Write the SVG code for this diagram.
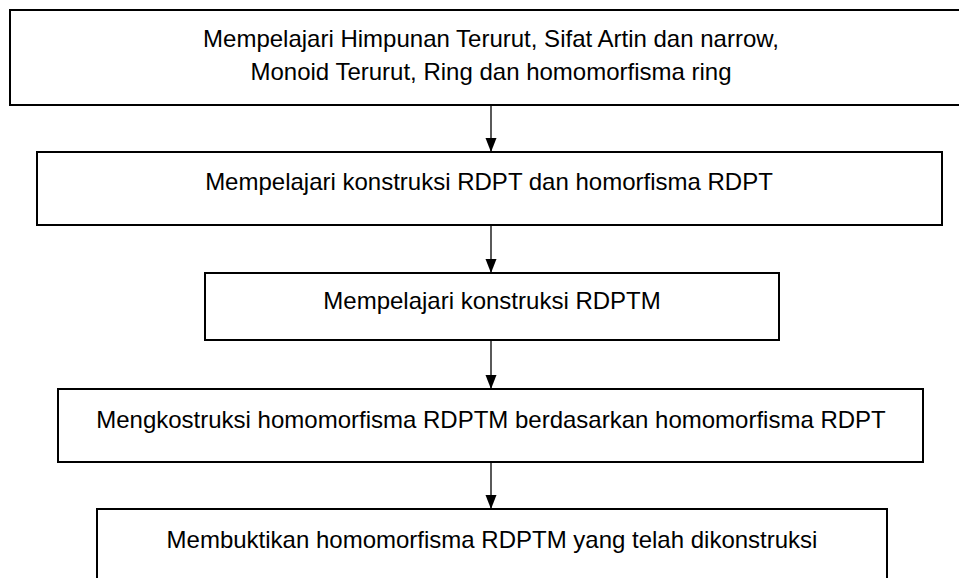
<svg xmlns="http://www.w3.org/2000/svg" width="959" height="578" viewBox="0 0 959 578">
<style>
.box{fill:#ffffff;stroke:#000000;stroke-width:2}
.lbl{font-family:"Liberation Sans",Arial,sans-serif;font-size:24px;fill:#000000;text-anchor:middle}
.conn{stroke:#000000;stroke-width:1.3;fill:none}
</style>
<defs>
<marker id="ah" markerUnits="userSpaceOnUse" markerWidth="15" markerHeight="12" refX="14" refY="6" orient="auto" viewBox="0 0 15 12">
<path d="M0,0.5 L14,6 L0,11.5 Z" fill="#000000"/>
</marker>
</defs>
<rect x="0" y="0" width="959" height="578" fill="#ffffff"/>
<g id="n1">
<rect class="box" x="10" y="10" width="970" height="95"/>
<text class="lbl" x="491" y="47">Mempelajari Himpunan Terurut, Sifat Artin dan narrow,</text>
<text class="lbl" x="491" y="80">Monoid Terurut, Ring dan homomorfisma ring</text>
</g>
<g id="n2">
<rect class="box" x="37" y="152" width="905" height="73"/>
<text class="lbl" x="489" y="190">Mempelajari konstruksi RDPT dan homorfisma RDPT</text>
</g>
<g id="n3">
<rect class="box" x="205" y="273" width="574" height="67"/>
<text class="lbl" x="492" y="309">Mempelajari konstruksi RDPTM</text>
</g>
<g id="n4">
<rect class="box" x="58" y="389" width="865" height="73"/>
<text class="lbl" x="491" y="428">Mengkostruksi homomorfisma RDPTM berdasarkan homomorfisma RDPT</text>
</g>
<g id="n5">
<rect class="box" x="97" y="509" width="790" height="90"/>
<text class="lbl" x="492" y="548">Membuktikan homomorfisma RDPTM yang telah dikonstruksi</text>
</g>
<g id="connectors">
<line class="conn" x1="491" y1="105" x2="491" y2="152" marker-end="url(#ah)"/>
<line class="conn" x1="491" y1="225" x2="491" y2="273" marker-end="url(#ah)"/>
<line class="conn" x1="491" y1="340" x2="491" y2="389" marker-end="url(#ah)"/>
<line class="conn" x1="491" y1="462" x2="491" y2="509" marker-end="url(#ah)"/>
</g>
</svg>
